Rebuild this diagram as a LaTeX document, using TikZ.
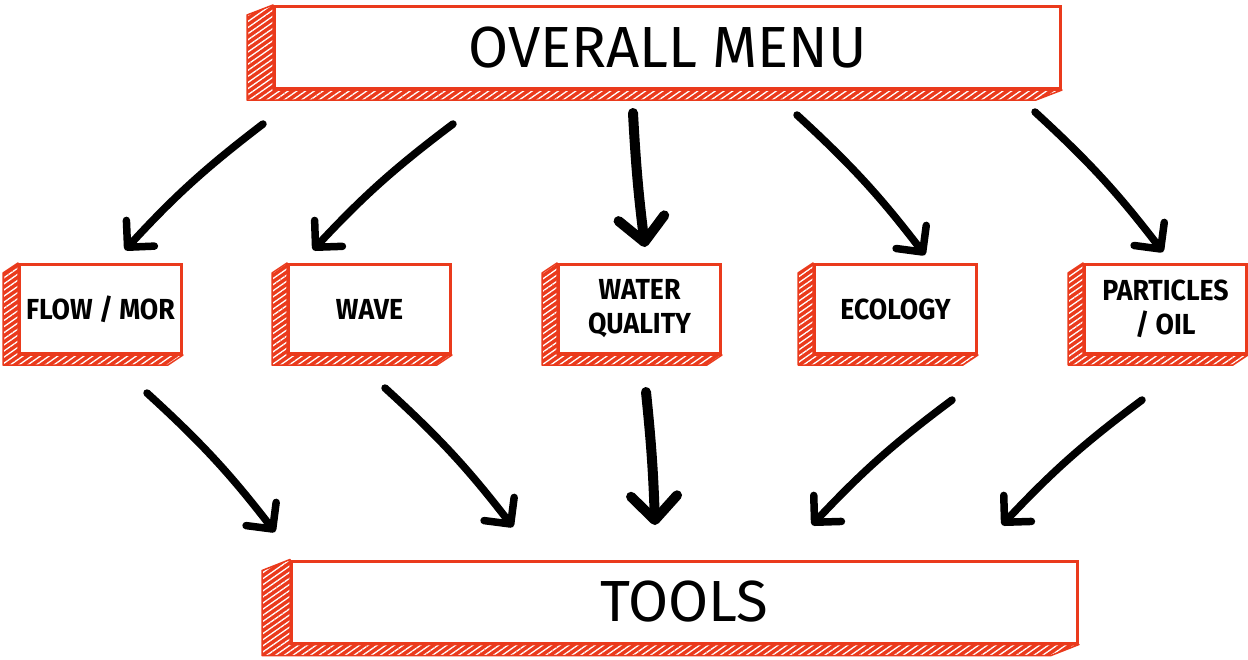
\documentclass[tikz,border=0pt]{standalone}
\usepackage{fontspec}
\setmainfont{Fira Sans}
\newfontfamily\tilefont[FakeStretch=0.92]{Fira Sans}
\usetikzlibrary{positioning, arrows.meta, patterns.meta}
\definecolor{sketchred}{RGB}{234,58,28}
\tikzset{
  tile/.style={draw=sketchred, line width=3pt, fill=white, align=center, inner sep=0pt,
    minimum width=162pt, minimum height=89pt, font=\tilefont\bfseries\fontsize{29}{34}\selectfont},
  banner/.style={tile, minimum width=786pt, minimum height=82pt, font=\fontsize{58}{60}\selectfont},
  side/.style={preaction={fill=sketchred}, pattern={Lines[angle=35, distance=5pt, line width=1.3pt]},
    pattern color=white, draw=sketchred, line width=1.5pt, line join=round},
  brush/.style={line width=7.5pt, line cap=round, -{Straight Barb[length=19pt, width=38pt, round]}},
  heavybrush/.style={brush, line width=10pt, -{Straight Barb[length=24pt, width=46pt, round]}}
}
% extruded left/bottom face of a tile
\newcommand{\sketchside}[3]{\path[side] (#1.north west) -- ++(-#2,-#3) -- ([shift={(-#2,-#3)}]#1.south west)
  -- ([shift={(-#2,-#3)}]#1.south east) -- (#1.south east) -- (#1.south west) -- cycle;}
\newcommand{\sketchtile}[5]{\node[#3] (#1) {#2}; \sketchside{#1}{#4}{#5}}
\newcommand{\sketcharrow}[3]{\draw[#3] (#1) to (#2);}

\begin{document}
\begin{tikzpicture}[x=1pt, y=1pt]
\useasboundingbox (0,0) rectangle (1248,-659);

\sketchtile{menu}{OVERALL MENU}{banner, at={(667.5,-47.5)}}{26}{10}
\sketchtile{tools}{TOOLS}{banner, at={(684.5,-602)}}{28}{11}

\sketchtile{flow}{FLOW / MOR}{tile, at={(100.5,-309)}}{15}{10}
\sketchtile{wave}{WAVE}{tile, right=104pt of flow}{15}{10}
\sketchtile{water}{WATER\\QUALITY}{tile, right=105pt of wave}{15}{10}
\sketchtile{eco}{ECOLOGY}{tile, right=91pt of water}{15}{10}
\sketchtile{part}{PARTICLES\\/ OIL}{tile, right=105pt of eco}{15}{10}

% arrow ends
\coordinate (a1s) at (263,-124); \coordinate (a1e) at (125,-250);
\coordinate (a2s) at (453,-124); \coordinate (a2e) at (313,-250);
\coordinate (a3s) at (633,-113); \coordinate (a3e) at (645,-247);
\coordinate (a4s) at (797,-115); \coordinate (a4e) at (925,-255);
\coordinate (a5s) at (1035,-112); \coordinate (a5e) at (1163,-252);
\coordinate (b1s) at (147,-393); \coordinate (b1e) at (275,-532);
\coordinate (b2s) at (385,-388); \coordinate (b2e) at (513,-527);
\coordinate (b3s) at (646,-392); \coordinate (b3e) at (655,-525);
\coordinate (b4s) at (952,-400); \coordinate (b4e) at (812,-525);
\coordinate (b5s) at (1142,-400); \coordinate (b5e) at (1002,-525);

\sketcharrow{a1s}{a1e}{brush, bend right=5}
\sketcharrow{a2s}{a2e}{brush, bend right=5}
\sketcharrow{a3s}{a3e}{heavybrush, bend right=2}
\sketcharrow{a4s}{a4e}{brush, bend left=5}
\sketcharrow{a5s}{a5e}{brush, bend left=5}

\sketcharrow{b1s}{b1e}{brush, bend left=5}
\sketcharrow{b2s}{b2e}{brush, bend left=5}
\sketcharrow{b3s}{b3e}{heavybrush, bend left=2}
\sketcharrow{b4s}{b4e}{brush, bend right=5}
\sketcharrow{b5s}{b5e}{brush, bend right=5}
\end{tikzpicture}
\end{document}
